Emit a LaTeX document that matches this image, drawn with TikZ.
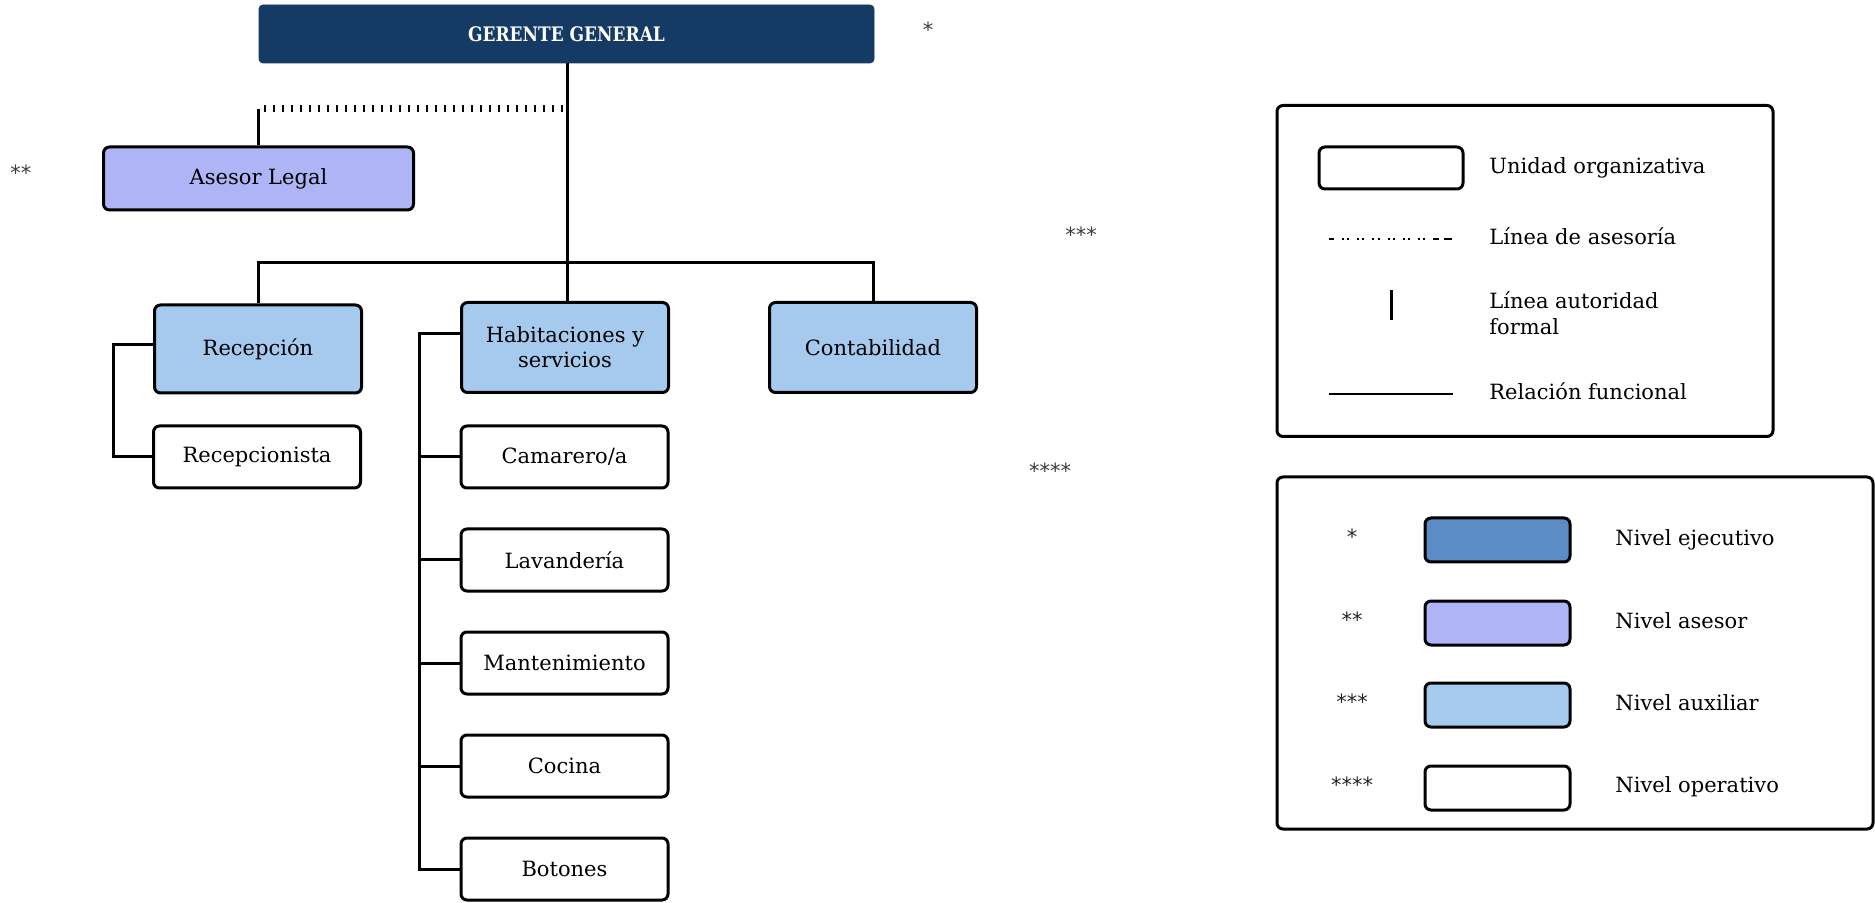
\documentclass[tikz,border=0pt]{standalone}
\usepackage{fontspec}
\setmainfont{DejaVu Serif}
\newfontfamily\starfont{DejaVu Sans}
\newfontfamily\headfont{DejaVu Serif}[FakeStretch=0.85]
\usetikzlibrary{calc}

\definecolor{navy}{RGB}{21,59,101}
\definecolor{advisor}{RGB}{174,180,245}
\definecolor{auxblue}{RGB}{166,201,238}
\definecolor{execblue}{RGB}{91,140,198}
\definecolor{stargray}{RGB}{60,60,60}

\tikzset{
  boxtext/.style={font=\fontsize{10.5}{12.6}\selectfont, align=center},
  unit/.style={boxtext, draw=black, line width=1.5pt, rounded corners=3pt,
    minimum width=103.5pt, minimum height=31pt, inner sep=0pt, fill=white},
  auxunit/.style={unit, fill=auxblue, minimum height=45pt},
  link/.style={line width=1.5pt},
  advice/.style={line width=3.5pt, dash pattern=on 1pt off 3.5pt},
  levelstar/.style={font=\starfont\fontsize{10.5}{12}\selectfont, text=stargray, inner sep=0pt},
  legframe/.style={draw=black, line width=1.5pt, rounded corners=3pt, inner sep=0pt},
  legbox/.style={draw=black, line width=1.5pt, rounded corners=3pt, inner sep=0pt,
    minimum width=72.5pt, minimum height=22pt},
  legtext/.style={font=\fontsize{10.5}{13}\selectfont, anchor=west, align=left, inner sep=0pt,
    text height=7.7pt, text depth=2.2pt},
}

\begin{document}
\begin{tikzpicture}[x=0.5pt, y=-0.5pt]
\useasboundingbox (0,0) rectangle (1875,903);

% --- top management ---
\node[draw=navy, fill=navy, rounded corners=2pt, minimum width=307.5pt, minimum height=29pt,
      inner sep=0pt, text=white, font=\headfont\bfseries\fontsize{10}{12}\selectfont]
      (gg) at (566.5,34) {GERENTE GENERAL};

% --- advisory unit ---
\node[unit, fill=advisor, minimum width=155pt, minimum height=31.5pt] (asesor) at (258.5,178.5) {Asesor Legal};

% --- auxiliary units ---
\node[auxunit, minimum height=44pt] (recep) at (258,349) {Recepción};
\node[auxunit] (hab) at (565,347.5) {Habitaciones y\\servicios};
\node[auxunit] (conta) at (873,347.5) {Contabilidad};

% --- operative units ---
\node[unit] (recepcionista) at (257,457) {Recepcionista};
\node[unit] (camarero) at (564.5,457) {Camarero/a};
\node[unit] (lav) at (564.5,560) {Lavandería};
\node[unit] (mant) at (564.5,663) {Mantenimiento};
\node[unit] (cocina) at (564.5,766) {Cocina};
\node[unit] (botones) at (564.5,869) {Botones};

% --- level marks ---
\node[levelstar] (m1) at (928,30) {*};
\node[levelstar] (m2) at (21,173) {**};
\node[levelstar] (m3) at (1081,235) {***};
\node[levelstar] (m4) at (1050,471) {****};

% --- lines of authority ---
\coordinate (jn) at (567,263);
\coordinate (adv) at (563,109);
\draw[link] (jn |- gg.south) -- (jn);
\draw[link] (recep.north) |- (jn) -| (conta.north);
\draw[link] (jn) -- (jn |- hab.north);

% advisory line
\draw[advice] (adv) -- (adv -| asesor.north);
\draw[link] (adv -| asesor.north) -- (asesor.north);

% reception branch
\draw[link] ([yshift=2pt]recep.west) -- ++(-40,0) |- (recepcionista.west);

% rooms and services branch
\coordinate (habjoin) at ([yshift=7pt]hab.west);
\draw[link] (habjoin) -- ++(-41,0) |- (botones.west);
\draw[link] (camarero.west) -- ++(-40,0);
\draw[link] (lav.west) -- ++(-40,0);
\draw[link] (mant.west) -- ++(-40,0);
\draw[link] (cocina.west) -- ++(-40,0);

% --- legend: symbols ---
\node[legframe, minimum width=248pt, minimum height=165.5pt] (leg1) at (1525,271) {};
\node[legbox, minimum width=72pt, minimum height=21pt] (symunit) at (1391,168) {};
\node[legtext] (t1) at (1489,168) {Unidad organizativa};
\coordinate (da) at (1329,239);
\coordinate (db) at (1454,239);
\draw[line width=1pt, dash pattern=on 2.5pt off 4pt on 1pt off 1.6pt on 1pt off 4pt on 1pt off 1.6pt on 1pt off 4pt on 1pt off 1.6pt on 1pt off 4pt on 1pt off 1.6pt on 1pt off 4pt on 1pt off 1.6pt on 1pt off 4pt on 1pt off 1.6pt on 1pt off 4pt on 3pt] (da) -- (db);
\node[legtext] (t2) at (1489,239) {Línea de asesoría};
\coordinate (va) at (1391,290);
\coordinate (vb) at (1391,320);
\draw[line width=1.5pt] (va) -- (vb);
\node[legtext, text height=, text depth=] (t3) at (1489,313) {Línea autoridad\\formal};
\coordinate (sa) at (1329,394);
\coordinate (sb) at (1453,394);
\draw[line width=1pt] (sa) -- (sb);
\node[legtext] (t4) at (1489,394) {Relación funcional};

% --- legend: levels ---
\node[legframe, minimum width=298pt, minimum height=176pt] (leg2) at (1575,653) {};
\node[legbox, fill=execblue] (lv1) at (1497.5,540) {};
\node[legbox, fill=advisor] (lv2) at (1497.5,623) {};
\node[legbox, fill=auxblue] (lv3) at (1497.5,705) {};
\node[legbox, fill=white] (lv4) at (1497.5,788) {};
\node[levelstar, text=black!85] (k1) at (1352,537) {*};
\node[levelstar, text=black!85] (k2) at (1352,620) {**};
\node[levelstar, text=black!85] (k3) at (1352,702) {***};
\node[levelstar, text=black!85] (k4) at (1352,785) {****};
\node[legtext] (n1) at (1615,540) {Nivel ejecutivo};
\node[legtext] (n2) at (1615,623) {Nivel asesor};
\node[legtext] (n3) at (1615,705) {Nivel auxiliar};
\node[legtext] (n4) at (1615,787) {Nivel operativo};
\end{tikzpicture}
\end{document}
